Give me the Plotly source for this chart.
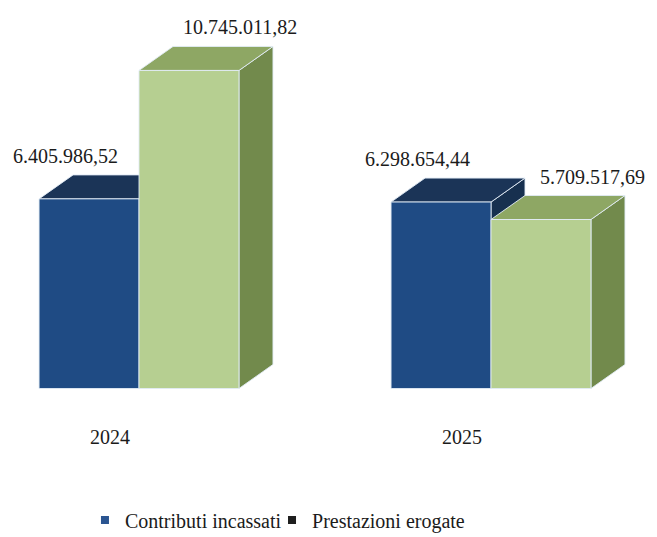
import plotly.graph_objects as go

# ---- data ----
years = ["2024", "2025"]
series_names = ["Contributi incassati", "Prestazioni erogate"]
contributi = [6405986.52, 6298654.44]
prestazioni = [10745011.82, 5709517.69]
value_labels_contributi = ["6.405.986,52", "6.298.654,44"]
value_labels_prestazioni = ["10.745.011,82", "5.709.517,69"]

# ---- style / geometry constants ----
FONT = "'Liberation Serif', 'Times New Roman', Tinos, 'DejaVu Serif', serif"
TXT = "#1b1b1b"
W = 0.284          # bar width (x units)
DX = 0.0966        # depth offset in x (x units)
DY = 0.81e6        # depth offset in y (value units)
EDGE = "rgba(225,235,245,0.9)"
colors = {
    0: dict(front="#1f4b84", top="#1b3457", side="#17304f"),
    1: dict(front="#b6cf91", top="#8ea764", side="#728a4c"),
}

fig = go.Figure()


def box(x0, x1, h, c):
    # side face
    fig.add_trace(go.Scatter(
        x=[x1, x1 + DX, x1 + DX, x1, x1], y=[0, DY, h + DY, h, 0],
        fill="toself", fillcolor=c["side"], mode="lines",
        line=dict(color=EDGE, width=1), hoverinfo="skip", showlegend=False))
    # top face
    fig.add_trace(go.Scatter(
        x=[x0, x1, x1 + DX, x0 + DX, x0], y=[h, h, h + DY, h + DY, h],
        fill="toself", fillcolor=c["top"], mode="lines",
        line=dict(color=EDGE, width=1), hoverinfo="skip", showlegend=False))
    # front face
    fig.add_trace(go.Scatter(
        x=[x0, x1, x1, x0, x0], y=[0, 0, h, h, 0],
        fill="toself", fillcolor=c["front"], mode="lines",
        line=dict(color=EDGE, width=1), hoverinfo="skip", showlegend=False))


for i, yr in enumerate(years):
    box(i - W, i, contributi[i], colors[0])
    box(i, i + W, prestazioni[i], colors[1])

    fig.add_annotation(x=i - 0.21, y=contributi[i], yshift=43,
                       text=value_labels_contributi[i], showarrow=False,
                       font=dict(family=FONT, size=20, color=TXT))
    fig.add_annotation(x=i + 0.287, y=prestazioni[i], yshift=43,
                       text=value_labels_prestazioni[i], showarrow=False,
                       font=dict(family=FONT, size=20, color=TXT))
    fig.add_annotation(x=i - 0.082, y=0, yshift=-48, text=yr, showarrow=False,
                       font=dict(family=FONT, size=20, color=TXT))

# legend entries (two independent legends, side by side)
fig.add_trace(go.Scatter(x=[None], y=[None], mode="markers", name=series_names[0],
                         marker=dict(symbol="square", size=8, color="#2a5591"),
                         legend="legend"))
fig.add_trace(go.Scatter(x=[None], y=[None], mode="markers", name=series_names[1],
                         marker=dict(symbol="square", size=8, color="#1e1e1e"),
                         legend="legend2"))

legend_style = dict(orientation="h", xanchor="left", y=0.032, yanchor="middle",
                    font=dict(family=FONT, size=20, color=TXT),
                    bgcolor="rgba(0,0,0,0)", borderwidth=0)

fig.update_layout(
    width=649, height=529,
    margin=dict(l=0, r=0, t=0, b=0, autoexpand=False),
    paper_bgcolor="white", plot_bgcolor="white",
    font=dict(family=FONT, size=20, color=TXT),
    xaxis=dict(range=[-0.3722, 1.4716], visible=False, fixedrange=True),
    yaxis=dict(range=[-5.017e6, 12.855e6], visible=False, fixedrange=True),
    showlegend=True,
    legend=dict(x=0.1186, **legend_style),
    legend2=dict(x=0.4068, **legend_style),
)

fig.write_html("out.html")
